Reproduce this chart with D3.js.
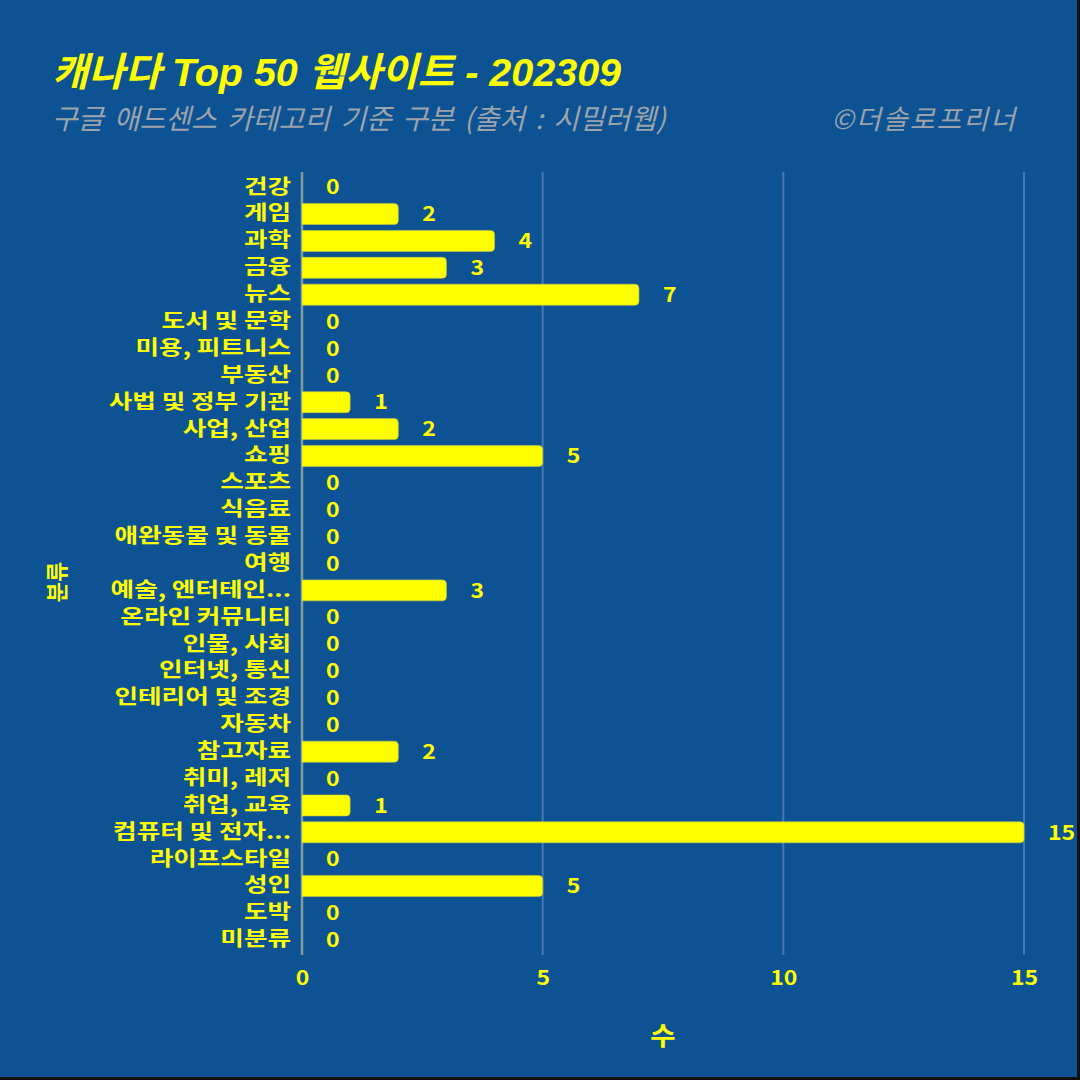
<!DOCTYPE html>
<html>
<head>
<meta charset="utf-8">
<script src="https://cdn.jsdelivr.net/npm/d3@7"></script>
<style>
  html, body { margin: 0; padding: 0; background: #0d5393; }
  svg { display: block; }
  text { font-family: "Noto Sans CJK KR", "Noto Sans", sans-serif; }
</style>
</head>
<body>
<div id="chart"></div>
<script>
// Data
const categories = ["건강", "게임", "과학", "금융", "뉴스", "도서 및 문학", "미용, 피트니스", "부동산",
  "사법 및 정부 기관", "사업, 산업", "쇼핑", "스포츠", "식음료", "애완동물 및 동물", "여행",
  "예술, 엔터테인...", "온라인 커뮤니티", "인물, 사회", "인터넷, 통신", "인테리어 및 조경", "자동차",
  "참고자료", "취미, 레저", "취업, 교육", "컴퓨터 및 전자...", "라이프스타일", "성인", "도박", "미분류"];
const counts = [0, 2, 4, 3, 7, 0, 0, 0, 1, 2, 5, 0, 0, 0, 0, 3, 0, 0, 0, 0, 0, 2, 0, 1, 15, 0, 5, 0, 0];
const xTicks = [0, 5, 10, 15];

const titleText = "캐나다 Top 50 웹사이트 - 202309";
const subtitleText = "구글 애드센스 카테고리 기준 구분 (출처 : 시밀러웹)";
const creditText = "©더솔로프리너";

const width = 1080, height = 1080;
const margin = { top: 172, right: 56, bottom: 125, left: 302 };
const yellow = "#ffff00";
const grey = "#9da3ab";
const wide = 1.28;   // plot text is drawn wide in the reference

const svg = d3.select("#chart").append("svg")
  .attr("width", width)
  .attr("height", height);

svg.append("rect").attr("width", width).attr("height", height).attr("fill", "#0d5393");

const x = d3.scaleLinear()
  .domain([0, 15])
  .range([margin.left, 1024]);

const y = d3.scaleBand()
  .domain(categories)
  .range([margin.top + 2, height - margin.bottom - 2])
  .paddingInner(0.22)
  .paddingOuter(0.1);

// grid
svg.append("g")
  .selectAll("line")
  .data(xTicks.slice(1))
  .join("line")
  .attr("x1", d => x(d)).attr("x2", d => x(d))
  .attr("y1", margin.top).attr("y2", height - margin.bottom)
  .attr("stroke", "#4679b0")
  .attr("stroke-width", 2);

// zero axis line
svg.append("line")
  .attr("x1", x(0)).attr("x2", x(0))
  .attr("y1", margin.top).attr("y2", height - margin.bottom)
  .attr("stroke", "#7f9c9a")
  .attr("stroke-width", 2.5);

// bars with rounded right end
const r = 4;
svg.append("g")
  .selectAll("path")
  .data(categories.map((c, i) => ({ c, v: counts[i] })).filter(d => d.v > 0))
  .join("path")
  .attr("fill", yellow)
  .attr("stroke", "#c9c94a")
  .attr("stroke-width", 0.6)
  .attr("d", d => {
    const x0 = x(0), x1 = x(d.v), y0 = y(d.c), h = y.bandwidth();
    return `M${x0},${y0}H${x1 - r}Q${x1},${y0} ${x1},${y0 + r}V${y0 + h - r}Q${x1},${y0 + h} ${x1 - r},${y0 + h}H${x0}Z`;
  });

// value labels
svg.append("g")
  .selectAll("text")
  .data(categories.map((c, i) => ({ c, v: counts[i] })))
  .join("text")
  .attr("transform", d => `translate(${x(d.v) + 24},${y(d.c) + y.bandwidth() / 2}) scale(1.15,1)`)
  .attr("dy", "0.36em")
  .attr("fill", yellow)
  .attr("font-size", 20)
  .attr("font-weight", "bold")
  .text(d => d.v);

// y axis labels
svg.append("g")
  .attr("transform", `translate(${margin.left - 11},0)`)
  .call(d3.axisLeft(y).tickSize(0).tickPadding(0))
  .call(g => g.select(".domain").remove())
  .call(g => g.selectAll("text")
    .attr("transform", `scale(${wide},1)`)
    .attr("fill", yellow)
    .attr("font-size", 20)
    .attr("font-weight", "bold"));

// x axis labels
svg.append("g")
  .attr("transform", `translate(0,${height - margin.bottom})`)
  .call(d3.axisBottom(x).tickValues(xTicks).tickSize(0).tickPadding(16))
  .call(g => g.select(".domain").remove())
  .call(g => g.selectAll("text")
    .attr("transform", "scale(1.15,1)")
    .attr("fill", yellow)
    .attr("font-size", 20)
    .attr("font-weight", "bold"));

// axis titles
svg.append("text")
  .attr("transform", "translate(663,1045) scale(1.1,1)")
  .attr("text-anchor", "middle")
  .attr("fill", yellow)
  .attr("font-size", 25)
  .attr("font-weight", "bold")
  .text("수");

svg.append("text")
  .attr("transform", "translate(65,582) rotate(-90)")
  .attr("text-anchor", "middle")
  .attr("fill", yellow)
  .attr("font-size", 22)
  .attr("font-weight", "bold")
  .text("분류");

// titles
svg.append("text")
  .attr("x", 52).attr("y", 86)
  .attr("fill", yellow)
  .attr("font-size", 39.5)
  .attr("font-weight", "bold")
  .attr("font-style", "italic")
  .style("font-family", "'Liberation Sans', 'Noto Sans CJK KR', sans-serif")
  .text(titleText);

svg.append("text")
  .attr("x", 52).attr("y", 129)
  .attr("fill", grey)
  .attr("font-size", 28)
  .attr("font-style", "italic")
  .attr("word-spacing", 4)
  .text(subtitleText);

svg.append("text")
  .attr("x", 1017).attr("y", 129)
  .attr("text-anchor", "end")
  .attr("fill", grey)
  .attr("font-size", 27)
  .attr("font-style", "italic")
  .attr("letter-spacing", 2)
  .text(creditText);

// dark frame on right/bottom edge
svg.append("rect").attr("x", 1077).attr("y", 0).attr("width", 3).attr("height", height).attr("fill", "#111");
svg.append("rect").attr("x", 0).attr("y", 1077).attr("width", width).attr("height", 3).attr("fill", "#111");
</script>
</body>
</html>
